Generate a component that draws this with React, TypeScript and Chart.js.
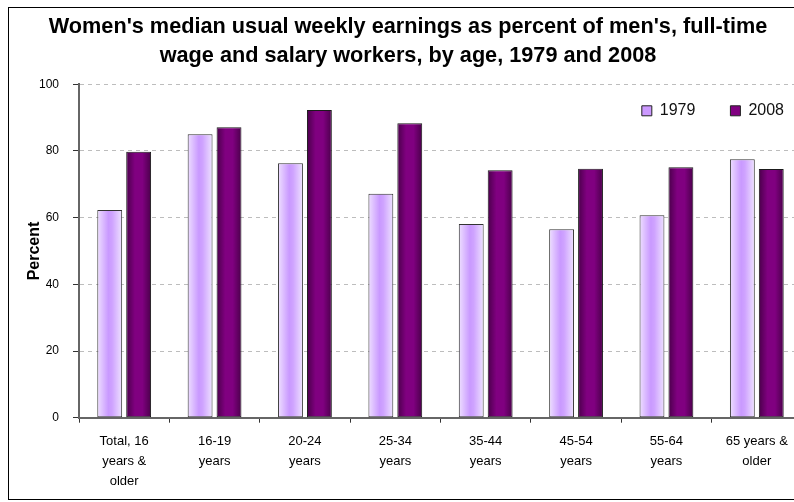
import React, { useEffect, useRef } from "react";
import { Chart, registerables } from "chart.js";

Chart.register(...registerables);

const CATEGORIES: string[][] = [
  ["Total, 16", "years &", "older"],
  ["16-19", "years"],
  ["20-24", "years"],
  ["25-34", "years"],
  ["35-44", "years"],
  ["45-54", "years"],
  ["55-64", "years"],
  ["65 years &", "older"],
];
const SERIES_NAMES = ["1979", "2008"];
const VALUES_1979 = [62.3, 85.0, 76.3, 67.2, 58.1, 56.5, 60.7, 77.5];
const VALUES_2008 = [79.8, 87.1, 92.3, 88.3, 74.2, 74.7, 75.1, 74.6];
const Y_TICKS = [0, 20, 40, 60, 80, 100];
const TITLE_LINES = [
  "Women's median usual weekly earnings as percent of men's, full-time",
  "wage and salary workers, by age, 1979 and 2008",
];
const Y_TITLE = "Percent";

const CAT_PCT = 0.64;
const BAR_PCT = 0.86;
const LEGEND_DX = 17;
const LEGEND_DY = -16.5;

const STOPS_1979: [number, string][] = [
  [0, "#EEDFFF"],
  [0.45, "#C999FF"],
  [0.6, "#CFA3FF"],
  [1, "#EEE2FF"],
];
const STOPS_2008: [number, string][] = [
  [0, "#4A004A"],
  [0.35, "#800080"],
  [0.65, "#800080"],
  [1, "#4A004A"],
];
const SOLID = ["#CC99FF", "#800080"];

const FONT = "'Liberation Sans', Arial, sans-serif";

function barFill(stops: [number, string][], solid: string) {
  return (ctx: any) => {
    const chart = ctx.chart;
    if (ctx.type !== "data") return solid;
    const xs = chart.scales && chart.scales.x;
    if (!xs || !chart.chartArea) return solid;
    const center = xs.getPixelForValue(ctx.dataIndex);
    const cat = xs.width / CATEGORIES.length;
    const chunk = (cat * CAT_PCT) / 2;
    const barC = center - (cat * CAT_PCT) / 2 + chunk * ctx.datasetIndex + chunk / 2;
    const w = chunk * BAR_PCT;
    const g = chart.ctx.createLinearGradient(barC - w / 2, 0, barC + w / 2, 0);
    stops.forEach(([o, c]) => g.addColorStop(o, c));
    return g;
  };
}

// Move the legend box (laid out at the top with ~1px height) into the plot area.
const legendShift = {
  id: "legendShift",
  afterLayout(chart: any) {
    const lg = chart.legend;
    if (!lg || !chart.chartArea) return;
    const top = chart.chartArea.top + LEGEND_DY;
    lg.top = top;
    lg.bottom = top + 80;
    lg.height = 80;
    lg.left += LEGEND_DX;
    lg.right += LEGEND_DX;
  },
};

export default function App() {
  const ref = useRef<HTMLCanvasElement>(null);

  useEffect(() => {
    if (!ref.current) return;
    const chart = new Chart(ref.current, {
      type: "bar",
      data: {
        labels: CATEGORIES,
        datasets: [
          {
            label: SERIES_NAMES[0],
            data: VALUES_1979,
            backgroundColor: barFill(STOPS_1979, SOLID[0]) as any,
            borderColor: "#333333",
            borderWidth: 1,
            borderSkipped: false,
          },
          {
            label: SERIES_NAMES[1],
            data: VALUES_2008,
            backgroundColor: barFill(STOPS_2008, SOLID[1]) as any,
            borderColor: "#1a1a1a",
            borderWidth: 1,
            borderSkipped: false,
          },
        ],
      },
      options: {
        responsive: false,
        animation: false,
        categoryPercentage: CAT_PCT,
        barPercentage: BAR_PCT,
        layout: { padding: { left: 5, right: 27, top: 0, bottom: 0 } },
        plugins: {
          tooltip: { enabled: false },
          title: {
            display: true,
            text: TITLE_LINES,
            color: "#000",
            font: { family: FONT, size: 21.7, weight: "bold", lineHeight: "29px" },
            padding: { top: 5, bottom: 12.3 },
          },
          legend: {
            display: true,
            position: "top",
            align: "end",
            maxHeight: 1,
            labels: {
              color: "#111",
              font: { family: FONT, size: 16 },
              boxWidth: 10,
              boxHeight: 10,
              padding: 35,
              generateLabels: (c: any) =>
                (Chart.defaults.plugins.legend.labels as any)
                  .generateLabels(c)
                  .map((l: any, i: number) => ({
                    ...l,
                    fillStyle: SOLID[i],
                    strokeStyle: "#222222",
                    lineWidth: 1,
                  })),
            },
          } as any,
        },
        scales: {
          x: {
            grid: {
              display: true,
              drawOnChartArea: false,
              drawTicks: true,
              tickLength: 5,
              tickColor: "#333",
              tickWidth: 1,
              offset: true,
            },
            border: { display: true, color: "#666", width: 2 },
            ticks: {
              color: "#000",
              padding: 9,
              maxRotation: 0,
              autoSkip: false,
              font: { family: FONT, size: 13, lineHeight: "20px" },
            },
            afterFit: (s: any) => {
              s.height = 80.3;
            },
          },
          y: {
            min: 0,
            max: 100,
            afterBuildTicks: (s: any) => {
              s.ticks = Y_TICKS.map((v) => ({ value: v }));
            },
            grid: {
              color: "#BDBDBD",
              lineWidth: 1,
              drawTicks: true,
              tickLength: 6,
              tickColor: "#333",
              tickBorderDash: [],
            } as any,
            border: { display: true, color: "#666", width: 2, dash: [4, 4] },
            ticks: {
              color: "#000",
              padding: 14,
              font: { family: FONT, size: 12 },
            },
            title: {
              display: true,
              text: Y_TITLE,
              color: "#000",
              font: { family: FONT, size: 16, weight: "bold" },
              padding: { top: 11.4, bottom: 0 },
            },
            afterFit: (s: any) => {
              s.width = 65;
            },
          },
        },
      },
      plugins: [legendShift],
    });
    return () => chart.destroy();
  }, []);

  return (
    <div
      style={{
        position: "fixed",
        left: 0,
        top: 0,
        width: 794,
        height: 502,
        overflow: "hidden",
        background: "#fff",
      }}
    >
      <div
        style={{
          position: "absolute",
          left: 8,
          top: 7,
          width: 900,
          height: 493,
          border: "1px solid #000",
          boxSizing: "border-box",
        }}
      />
      <canvas
        ref={ref}
        width={820}
        height={490}
        style={{ position: "absolute", left: 9, top: 8, width: 820, height: 490 }}
      />
    </div>
  );
}
